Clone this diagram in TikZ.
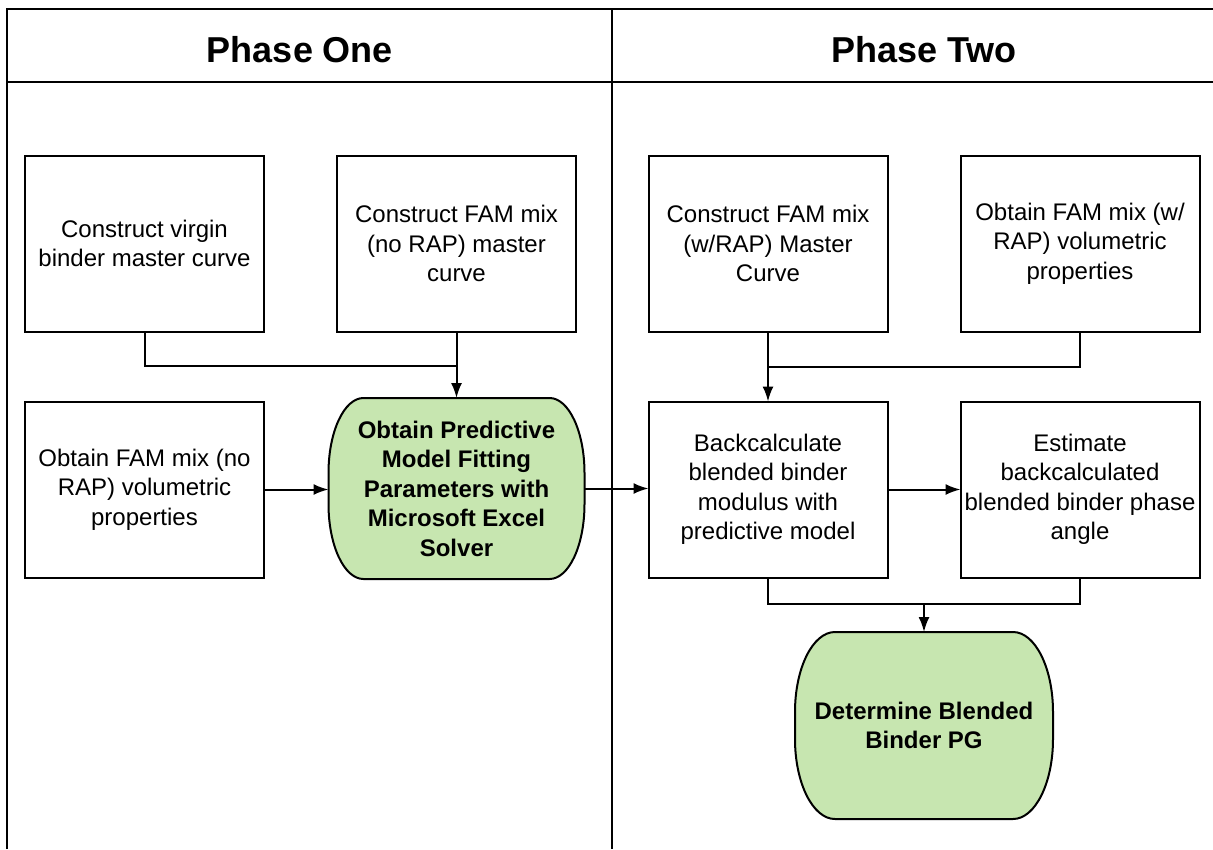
\documentclass[tikz,border=0pt]{standalone}
\usepackage{fontspec}
\setmainfont{Liberation Sans}
\usetikzlibrary{arrows.meta,positioning,backgrounds}
\definecolor{solvergreen}{RGB}{199,230,176}

\begin{document}
\begin{tikzpicture}[x=1pt,y=-1pt,% pixel grid, y pointing down
        procbox/.style={draw,line width=2pt,outer sep=0pt,minimum width=239pt,minimum height=176pt,inner sep=0pt,align=center,font=\fontsize{24}{29.5}\selectfont},
        termbox/.style={inner sep=0pt,outer sep=0pt,align=center,font=\fontsize{24}{29.5}\selectfont\bfseries},
        flow/.style={-{Latex[length=15pt,width=11pt]},line width=2pt},
        link/.style={line width=2pt}]
\useasboundingbox (0,0) rectangle (1213,849);

% swimlane frame
\draw[line width=2pt] (7,849) -- (7,9) -- (1213,9);
\draw[line width=2pt] (7,82) -- (1213,82);
\draw[line width=2pt] (612,9) -- (612,849);
\node[font=\fontsize{36}{40}\selectfont\bfseries] (laneone) at (300,50) {Phase One};
\node[font=\fontsize{36}{40}\selectfont\bfseries] (lanetwo) at (924,50) {Phase Two};

% phase one
\node[procbox] (virgin) at (144.5,243.5) {Construct virgin\\binder master curve};
\node[procbox,right=73pt of virgin] (famnorap) {Construct FAM mix\\(no RAP) master\\curve};
\node[procbox,below=70pt of virgin] (volnorap) {Obtain FAM mix (no\\RAP) volumetric\\properties};
\node[termbox,minimum width=256pt,minimum height=181pt] (solver) at (456.5,488.5) {Obtain Predictive\\Model Fitting\\Parameters with\\Microsoft Excel\\Solver};

% phase two
\node[procbox] (famrap) at (768,243.5) {Construct FAM mix\\(w/RAP) Master\\Curve};
\node[procbox,right=73pt of famrap] (volrap) {Obtain FAM mix (w/\\RAP) volumetric\\properties};
\node[procbox,below=70pt of famrap] (backcalc) {Backcalculate\\blended binder\\modulus with\\predictive model};
\node[procbox,right=73pt of backcalc] (phase) {Estimate\\backcalculated\\blended binder phase\\angle};
\node[termbox,minimum width=258pt,minimum height=187pt] (pg) at (924,725.5) {Determine Blended\\Binder PG};

\begin{scope}[on background layer]
\foreach \n/\rx/\ry in {solver/35/75,pg/40/80}{ % terminator outline behind the bold nodes
\draw[fill=solvergreen,line width=2pt] ([xshift=\rx pt]\n.north west) -- ([xshift=-\rx pt]\n.north east)
  arc[start angle=90,end angle=0,x radius=\rx pt,y radius=\ry pt] -- ([yshift=\ry pt]\n.south east)
  arc[start angle=0,end angle=-90,x radius=\rx pt,y radius=\ry pt] -- ([xshift=\rx pt]\n.south west)
  arc[start angle=270,end angle=180,x radius=\rx pt,y radius=\ry pt] -- ([yshift=-\ry pt]\n.north west)
  arc[start angle=180,end angle=90,x radius=\rx pt,y radius=\ry pt] -- cycle;
}
\end{scope}

% connectors
\coordinate (joinone) at ([yshift=-34pt]famnorap.south);
\draw[link] (virgin.south) |- (joinone);
\draw[flow] (famnorap.south) -- (solver.north);
\draw[flow] (volnorap.east) -- (volnorap.east -| solver.west);
\draw[flow] (solver.east) -- (solver.east -| backcalc.west);

\coordinate (jointwo) at ([yshift=-35pt]famrap.south);
\draw[link] (volrap.south) |- (jointwo);
\draw[flow] (famrap.south) -- (backcalc.north);
\draw[flow] (backcalc.east) -- (phase.west);

\coordinate (jointhree) at (924,604);
\draw[link] (backcalc.south) |- (jointhree) -| (phase.south);
\draw[flow] (jointhree) -- (pg.north);

\end{tikzpicture}
\end{document}
